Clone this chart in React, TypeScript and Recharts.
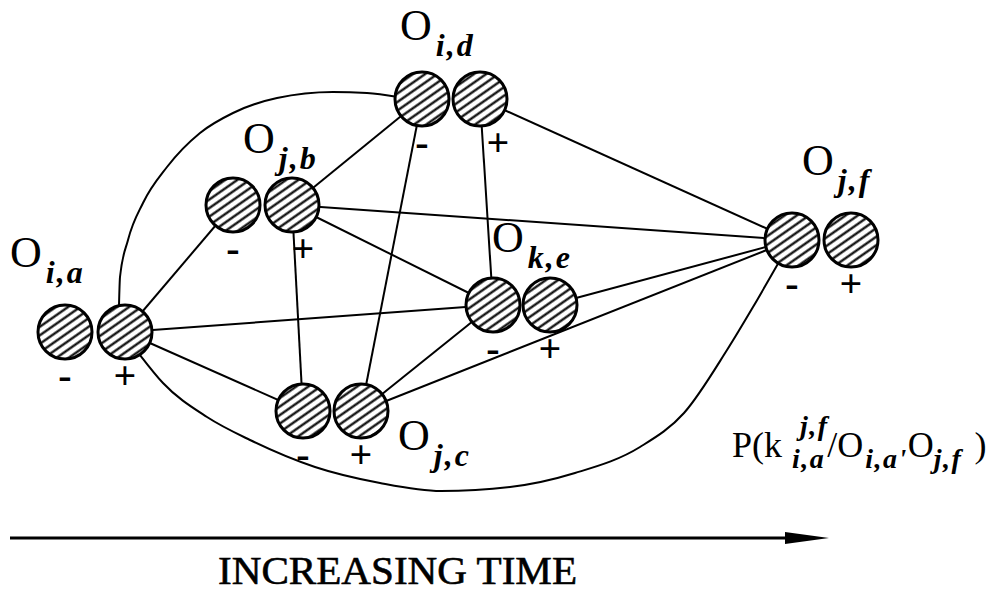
import React from 'react';
import { ComposedChart, Line, Scatter, XAxis, YAxis } from 'recharts';

// each object O has a "-" and a "+" pole drawn as two hatched circles
const nodeNames = ['i,a', 'j,b', 'i,d', 'j,c', 'k,e', 'j,f'];
const minusX = [65, 233, 422, 303, 493, 792];
const plusX = [125, 292, 480, 361, 550, 851];
const nodeY = [332, 205, 99, 411, 305, 240];
const plusSignShift = [0, 11, 18, 0, 0, 0];

// where the "O" of each label sits (left, baseline)
const labelX = [10, 243, 400, 398, 492, 802];
const labelY = [267, 153, 40, 450, 252, 175];

const edgeFrom = ['i,a+', 'i,a+', 'i,a+', 'j,b+', 'j,b+', 'j,b+', 'j,b+', 'i,d-', 'i,d+', 'i,d+', 'k,e-', 'k,e+', 'j,c+'];
const edgeTo = ['j,b-', 'k,e-', 'j,c-', 'i,d-', 'j,f-', 'k,e-', 'j,c-', 'j,c+', 'k,e-', 'j,f-', 'j,c+', 'j,f-', 'j,f-'];

const upperArcX = [119, 120, 128, 143, 167, 200, 233, 277, 333, 367, 398];
const upperArcY = [305, 277, 240, 203, 167, 133, 113, 98, 92, 93, 97];
const lowerArcX = [140, 163, 207, 250, 315, 380, 441, 510, 575, 640, 684, 727, 753, 779];
const lowerArcY = [355, 383, 417, 440, 467, 483, 491, 487, 473, 447, 413, 350, 307, 262];

const timeArrowX = [10, 800];
const timeArrowY = [538, 538];
const arrowTip = [{ x: 829, y: 538 }];

const titlePos = [{ x: 218, y: 584 }];
const formulaPos = [{ x: 732, y: 457 }];

const SERIF = "'Liberation Serif', 'Times New Roman', serif";

const pole = (ref: string) => {
  const i = nodeNames.indexOf(ref.slice(0, -1));
  const plus = ref.endsWith('+');
  return { x: plus ? plusX[i] : minusX[i], y: nodeY[i] };
};

const edges = edgeFrom.map((f, i) => [pole(f), pole(edgeTo[i])]);
const upperArc = upperArcX.map((x, i) => ({ x, y: upperArcY[i] }));
const lowerArc = lowerArcX.map((x, i) => ({ x, y: lowerArcY[i] }));
const timeArrow = timeArrowX.map((x, i) => ({ x, y: timeArrowY[i] }));
const minusNodes = nodeNames.map((name, i) => ({ x: minusX[i], y: nodeY[i], sign: '-', shift: 0 }));
const plusNodes = nodeNames.map((name, i) => ({ x: plusX[i], y: nodeY[i], sign: '+', shift: plusSignShift[i] }));
const labels = nodeNames.map((name, i) => ({ x: labelX[i], y: labelY[i], name }));

const renderNode = (p: any) => (
  <g>
    <circle cx={p.cx} cy={p.cy} r={27} fill="url(#hatch)" stroke="#000" strokeWidth={3} />
    <text
      x={p.cx + p.payload.shift}
      y={p.cy + 57}
      textAnchor="middle"
      fontFamily={SERIF}
      fontWeight="bold"
      fontSize={40}
      fill="#000"
    >
      {p.payload.sign}
    </text>
  </g>
);

const renderLabel = (p: any) => (
  <text x={p.cx} y={p.cy} fontFamily={SERIF} fill="#000">
    <tspan fontSize={44}>O</tspan>
    <tspan dx={4} dy={16} fontSize={32} fontWeight="bold" fontStyle="italic" letterSpacing={2}>
      {p.payload.name}
    </tspan>
  </text>
);

const renderTitle = (p: any) => (
  <text
    x={p.cx}
    y={p.cy}
    fontFamily={SERIF}
    fontSize={40}
    fill="#000"
    stroke="#000"
    strokeWidth={0.6}
    textLength={359}
    lengthAdjust="spacingAndGlyphs"
  >
    INCREASING TIME
  </text>
);

const renderFormula = (p: any) => {
  const x = p.cx;
  const y = p.cy;
  const sub = { fontSize: 28, fontWeight: 'bold', fontStyle: 'italic', letterSpacing: 1.5 } as const;
  return (
    <text fontFamily={SERIF} fontSize={36} fill="#000">
      <tspan x={x} y={y}>P(k</tspan>
      <tspan x={x + 68} y={y - 22} {...sub}>j,f</tspan>
      <tspan x={x + 60} y={y + 11} {...sub}>i,a</tspan>
      <tspan y={y} dx={2}>/O</tspan>
      <tspan y={y + 11} dx={2} {...sub}>i,a'</tspan>
      <tspan y={y}>O</tspan>
      <tspan y={y + 11} {...sub}>j,f</tspan>
      <tspan y={y} dx={12}>)</tspan>
    </text>
  );
};

const renderArrowHead = (p: any) => (
  <polygon points={`${p.cx - 44},${p.cy - 6} ${p.cx},${p.cy} ${p.cx - 44},${p.cy + 6}`} fill="#000" />
);

export default function App() {
  return (
    <div style={{ position: 'absolute', left: 0, top: 0, background: '#fff' }}>
      <ComposedChart width={1000} height={593} margin={{ top: 0, right: 0, bottom: 0, left: 0 }}>
        <defs>
          <pattern id="hatch" patternUnits="userSpaceOnUse" width={7} height={7} patternTransform="rotate(-35)">
            <rect width={7} height={7} fill="#fff" />
            <line x1={0} y1={3.5} x2={7} y2={3.5} stroke="#000" strokeWidth={2.2} />
          </pattern>
        </defs>
        <XAxis type="number" dataKey="x" domain={[0, 1000]} hide allowDataOverflow />
        <YAxis type="number" dataKey="y" domain={[0, 593]} reversed hide allowDataOverflow />
        {edges.map((e, i) => (
          <Line
            key={`edge-${i}`}
            data={e}
            dataKey="y"
            type="linear"
            stroke="#000"
            strokeWidth={2}
            dot={false}
            activeDot={false}
            isAnimationActive={false}
          />
        ))}
        <Line data={upperArc} dataKey="y" type="monotoneX" stroke="#000" strokeWidth={2} dot={false} activeDot={false} isAnimationActive={false} />
        <Line data={lowerArc} dataKey="y" type="monotoneX" stroke="#000" strokeWidth={2} dot={false} activeDot={false} isAnimationActive={false} />
        <Line data={timeArrow} dataKey="y" type="linear" stroke="#000" strokeWidth={3} dot={false} activeDot={false} isAnimationActive={false} />
        <Scatter data={arrowTip} shape={renderArrowHead} isAnimationActive={false} />
        <Scatter data={minusNodes} shape={renderNode} isAnimationActive={false} />
        <Scatter data={plusNodes} shape={renderNode} isAnimationActive={false} />
        <Scatter data={labels} shape={renderLabel} isAnimationActive={false} />
        <Scatter data={titlePos} shape={renderTitle} isAnimationActive={false} />
        <Scatter data={formulaPos} shape={renderFormula} isAnimationActive={false} />
      </ComposedChart>
    </div>
  );
}
